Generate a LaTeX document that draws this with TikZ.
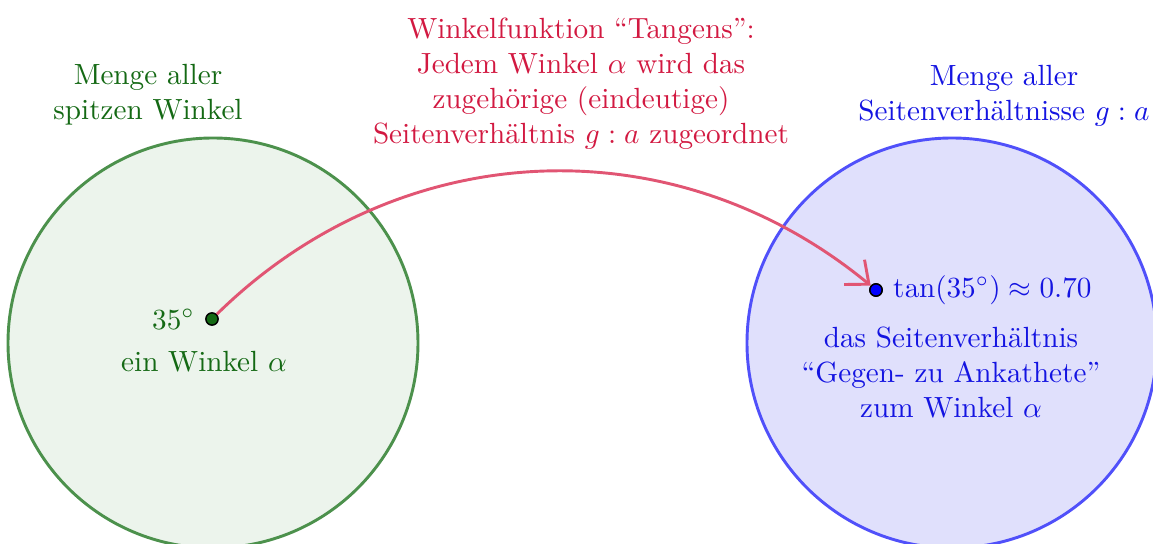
\documentclass[tikz,border=0pt]{standalone}
\usetikzlibrary{arrows.meta}
\definecolor{gtext}{RGB}{20,105,20}
\definecolor{gline}{RGB}{76,145,76}
\definecolor{gfill}{RGB}{236,244,236}
\definecolor{btext}{RGB}{20,20,225}
\definecolor{bline}{RGB}{80,80,250}
\definecolor{bfill}{RGB}{224,224,252}
\definecolor{rtext}{RGB}{210,25,65}
\definecolor{rline}{RGB}{225,85,115}
\tikzset{
  setcircle/.style={circle, line width=1pt, inner sep=0pt, minimum size=410*0.3425pt},
  pointdot/.style={circle, draw=black, line width=0.5pt, inner sep=0pt, minimum size=4.2pt},
  lbl/.style={align=center, inner sep=0pt}
}
\begin{document}
\begin{tikzpicture}[x=0.3425pt,y=-0.3425pt]
\useasboundingbox (0,0) rectangle (1153,544);
\node[setcircle, draw=gline, fill=gfill] (A) at (213,343) {};
\node[setcircle, draw=bline, fill=bfill] (B) at (952,343) {};
\node[lbl, text=gtext] (la) at (148,95) {Menge aller\\spitzen Winkel};
\node[lbl, text=btext] (lb) at (1004,96) {Menge aller\\Seitenverh\"altnisse $g:a$};
\node[lbl, text=rtext] (lr) at (581,84) {Winkelfunktion ``Tangens'':\\Jedem Winkel $\alpha$ wird das\\zugeh\"orige (eindeutige)\\Seitenverh\"altnis $g:a$ zugeordnet};
\node[pointdot, fill=gtext] (g) at (212,319) {};
\node[pointdot, fill=blue] (b) at (876,290) {};
\draw[rline, line width=1pt, -{Straight Barb[length=6.5pt,width=11pt]}] (g) to[bend left=42] (b);
\node[pointdot, fill=blue] at (b) {};
\node[anchor=east, text=gtext] (t35) at (g.west) {$35^\circ$};
\node[lbl, text=gtext] (ew) at (204,362) {ein Winkel $\alpha$};
\node[anchor=west, text=btext] (tan) at (b.east) {$\tan(35^\circ)\approx 0.70$};
\node[lbl, text=btext] (sv) at (951,373) {das Seitenverh\"altnis\\``Gegen- zu Ankathete''\\zum Winkel $\alpha$};
\end{tikzpicture}
\end{document}
